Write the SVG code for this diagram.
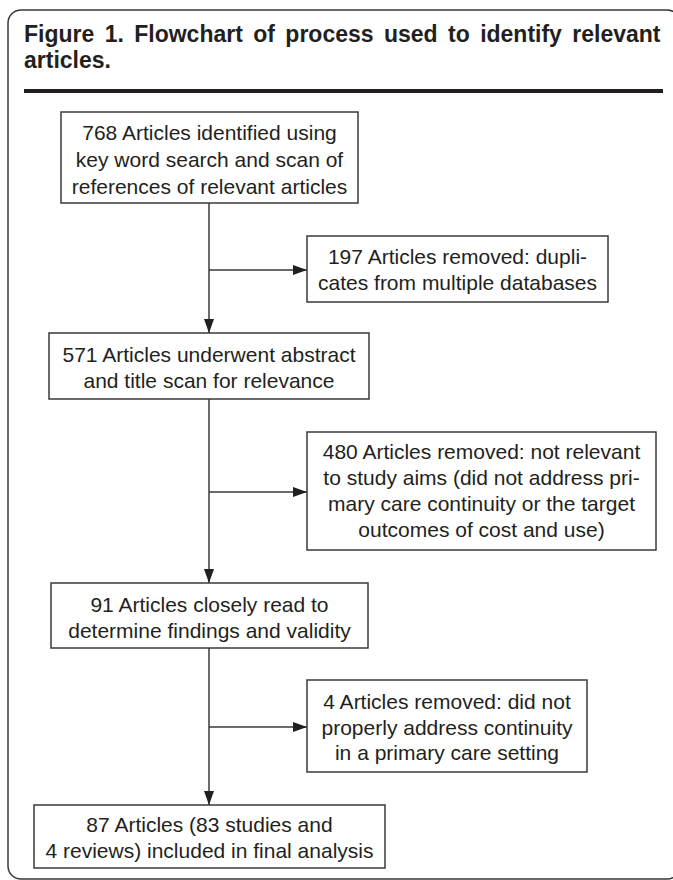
<svg xmlns="http://www.w3.org/2000/svg" width="673" height="880" viewBox="0 0 673 880">
<style>
.box{fill:#fff;stroke:#3a3a3a;stroke-width:1.5}
.t{font-family:"Liberation Sans",Arial,sans-serif;font-size:21px;fill:#231f20;text-anchor:middle}
.title{font-family:"Liberation Sans",Arial,sans-serif;font-size:23px;font-weight:bold;fill:#231f20}
.c{fill:none;stroke:#3a3a3a;stroke-width:1.5}
</style>
<defs>
<marker id="ah" viewBox="0 0 14 10" refX="14" refY="5" markerWidth="14" markerHeight="10" markerUnits="userSpaceOnUse" orient="auto">
<path d="M0,0 L14,5 L0,10 Z" fill="#231f20"/>
</marker>
</defs>
<rect x="8" y="10" width="672" height="869" rx="13" ry="13" fill="#fff" stroke="#3a3a3a" stroke-width="1.5"/>
<g id="title">
<text class="title" x="24" y="42" word-spacing="4">Figure 1. Flowchart of process used to identify relevant</text>
<text class="title" x="24" y="68">articles.</text>
<rect x="24" y="89" width="639" height="4" fill="#231f20"/>
</g>
<g id="connectors">
<line class="c" x1="209" y1="203" x2="209" y2="333" marker-end="url(#ah)"/>
<line class="c" x1="209" y1="270" x2="307" y2="270" marker-end="url(#ah)"/>
<line class="c" x1="209" y1="399" x2="209" y2="583" marker-end="url(#ah)"/>
<line class="c" x1="209" y1="492" x2="307" y2="492" marker-end="url(#ah)"/>
<line class="c" x1="209" y1="648" x2="209" y2="805" marker-end="url(#ah)"/>
<line class="c" x1="209" y1="727" x2="307" y2="727" marker-end="url(#ah)"/>
</g>
<g id="n768">
<rect class="box" x="61" y="112" width="297" height="91"/>
<text class="t" x="209.5" y="140">768 Articles identified using</text>
<text class="t" x="209.5" y="167">key word search and scan of</text>
<text class="t" x="209.5" y="194">references of relevant articles</text>
</g>
<g id="n197">
<rect class="box" x="307" y="236" width="301" height="66"/>
<text class="t" x="457.5" y="264">197 Articles removed: dupli-</text>
<text class="t" x="457.5" y="290">cates from multiple databases</text>
</g>
<g id="n571">
<rect class="box" x="49" y="333" width="320" height="66"/>
<text class="t" x="209" y="362">571 Articles underwent abstract</text>
<text class="t" x="209" y="388">and title scan for relevance</text>
</g>
<g id="n480">
<rect class="box" x="307" y="432" width="349" height="118"/>
<text class="t" x="481.5" y="459">480 Articles removed: not relevant</text>
<text class="t" x="481.5" y="485">to study aims (did not address pri-</text>
<text class="t" x="481.5" y="511">mary care continuity or the target</text>
<text class="t" x="481.5" y="537">outcomes of cost and use)</text>
</g>
<g id="n91">
<rect class="box" x="51" y="583" width="317" height="65"/>
<text class="t" x="209.5" y="612">91 Articles closely read to</text>
<text class="t" x="209.5" y="638">determine findings and validity</text>
</g>
<g id="n4">
<rect class="box" x="307" y="680" width="280" height="92"/>
<text class="t" x="447" y="709">4 Articles removed: did not</text>
<text class="t" x="447" y="735">properly address continuity</text>
<text class="t" x="447" y="760">in a primary care setting</text>
</g>
<g id="n87">
<rect class="box" x="34" y="805" width="351" height="63"/>
<text class="t" x="209.5" y="832">87 Articles (83 studies and</text>
<text class="t" x="209.5" y="858">4 reviews) included in final analysis</text>
</g>
</svg>
